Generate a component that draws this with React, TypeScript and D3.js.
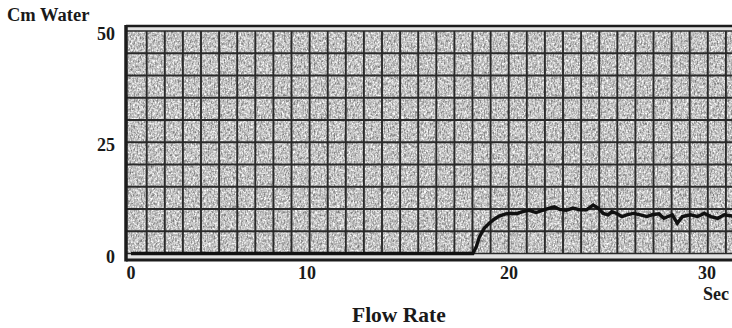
import React from 'react';
import * as d3 from 'd3';

const W = 732;
const H = 328;

const xTicks = [0, 10, 20, 30];
const yTicks = [0, 25, 50];

// trace
const timeSec = [
  0, 6, 12, 18.21, 18.38, 18.54, 18.78, 19.02, 19.27, 19.51, 19.84, 20.09, 20.42, 20.68,
  21.02, 21.36, 21.7, 22.04, 22.3, 22.55, 22.89, 23.23, 23.57, 23.91, 24.25, 24.5,
  24.76, 25.01, 25.19, 25.44, 25.7, 25.95, 26.29, 26.63, 26.97, 27.23, 27.57, 27.82,
  28.25, 28.5, 28.76, 29.18, 29.52, 29.86, 30.2, 30.54, 30.88, 31.31,
];
const cmWater = [
  0, 0, 0, 0, 1.5, 3.8, 5.7, 6.8, 7.7, 8.4, 8.9, 9.0, 9.0, 9.4,
  9.7, 9.2, 9.7, 10.2, 10.5, 9.9, 9.7, 10.2, 9.8, 9.8, 10.9, 10.2,
  9.0, 8.7, 9.4, 9.0, 8.3, 8.7, 9.0, 8.7, 8.3, 8.7, 8.9, 7.9,
  8.7, 6.8, 8.3, 8.7, 8.3, 9.0, 8.3, 7.9, 8.7, 8.4,
];

// scanned chart: tick spacing is slightly uneven, so the x scale is polylinear
const x = d3.scaleLinear().domain(xTicks).range([131, 307, 509, 707]);
const y = d3.scaleLinear().domain([0, 50]).range([253.5, 31]);
// chart paper squares (independent of the data)
const paper = d3.scaleLinear().domain([0, 33]).range([128.6, 128.6 + 33 * 18.1]);
const gridCols = d3.range(1, 34);
const gridRows = d3.range(5, 50, 5);

const font = '"Liberation Serif", "DejaVu Serif", serif';

export default function App() {
  const pts = timeSec.map((t, i) => [t, cmWater[i]] as [number, number]);
  const line = d3.line<[number, number]>().x(d => x(d[0])).y(d => y(d[1]));

  const left = 126;
  const top = 26;
  const bottom = 260;

  return (
    <svg width={W} height={H} style={{ position: 'absolute', left: 0, top: 0, background: '#fff' }}>
      <defs>
        <filter id="speckDark" x="0" y="0" width="100%" height="100%">
          <feTurbulence type="fractalNoise" baseFrequency="0.7 0.35" numOctaves="2" seed="4" />
          <feColorMatrix type="matrix" values="0 0 0 0 0.15  0 0 0 0 0.15  0 0 0 0 0.15  -2.4 0 0 0 1.32" />
          <feGaussianBlur stdDeviation="0.35" />
        </filter>
        <filter id="speckLight" x="0" y="0" width="100%" height="100%">
          <feTurbulence type="fractalNoise" baseFrequency="0.45 0.6" numOctaves="2" seed="9" />
          <feColorMatrix type="matrix" values="0 0 0 0 1  0 0 0 0 1  0 0 0 0 1  2.6 0 0 0 -0.95" />
          <feGaussianBlur stdDeviation="0.45" />
        </filter>
      </defs>

      {/* paper */}
      <rect x={left} y={top} width={W - left} height={bottom - top} fill="#bcbcbc" />
      <rect x={left} y={top} width={W - left} height={bottom - top} filter="url(#speckLight)" />
      <rect x={left} y={top} width={W - left} height={bottom - top} filter="url(#speckDark)" />
      {/* light strips at top and bottom edge */}
      <rect x={left} y={top} width={W - left} height={y(50) - top} fill="#e2e2e2" />
      <rect x={left} y={y(0)} width={W - left} height={bottom - y(0)} fill="#e2e2e2" />

      {/* grid */}
      <g stroke="#2a2a2a" strokeWidth={1.9}>
        {gridCols.map(c => (
          <line key={'c' + c} x1={paper(c)} x2={paper(c)} y1={y(50)} y2={y(0)} />
        ))}
        {gridRows.map(r => (
          <line key={'r' + r} x1={left} x2={W} y1={y(r)} y2={y(r)} />
        ))}
        <line x1={left} x2={W} y1={y(50)} y2={y(50)} strokeWidth={1.5} />
        <line x1={left} x2={W} y1={y(0)} y2={y(0)} strokeWidth={1.5} />
      </g>

      {/* frame */}
      <g stroke="#1c1c1c" fill="none">
        <line x1={left} x2={W} y1={top} y2={top} strokeWidth={2.5} />
        <line x1={left} x2={W} y1={bottom} y2={bottom} strokeWidth={3} />
        <line x1={left} x2={left} y1={top - 1} y2={bottom + 1.5} strokeWidth={3.5} />
      </g>

      {/* trace */}
      <path d={line(pts) ?? ''} fill="none" stroke="#111" strokeWidth={3.4} strokeLinejoin="miter" />

      {/* labels */}
      <g fontFamily={font} fontWeight="bold" fill="#1a1a1a">
        <text x={7} y={21} fontSize={18.5}>Cm Water</text>
        {yTicks.map(v => (
          <text key={'y' + v} x={115} y={y(v) + 9} fontSize={18} textAnchor="end">{v}</text>
        ))}
        {xTicks.map(v => (
          <text key={'x' + v} x={x(v)} y={279} fontSize={18} textAnchor="middle">{v}</text>
        ))}
        <text x={703} y={300} fontSize={18}>Sec</text>
        <text x={352} y={322} fontSize={21.5}>Flow Rate</text>
      </g>
    </svg>
  );
}
